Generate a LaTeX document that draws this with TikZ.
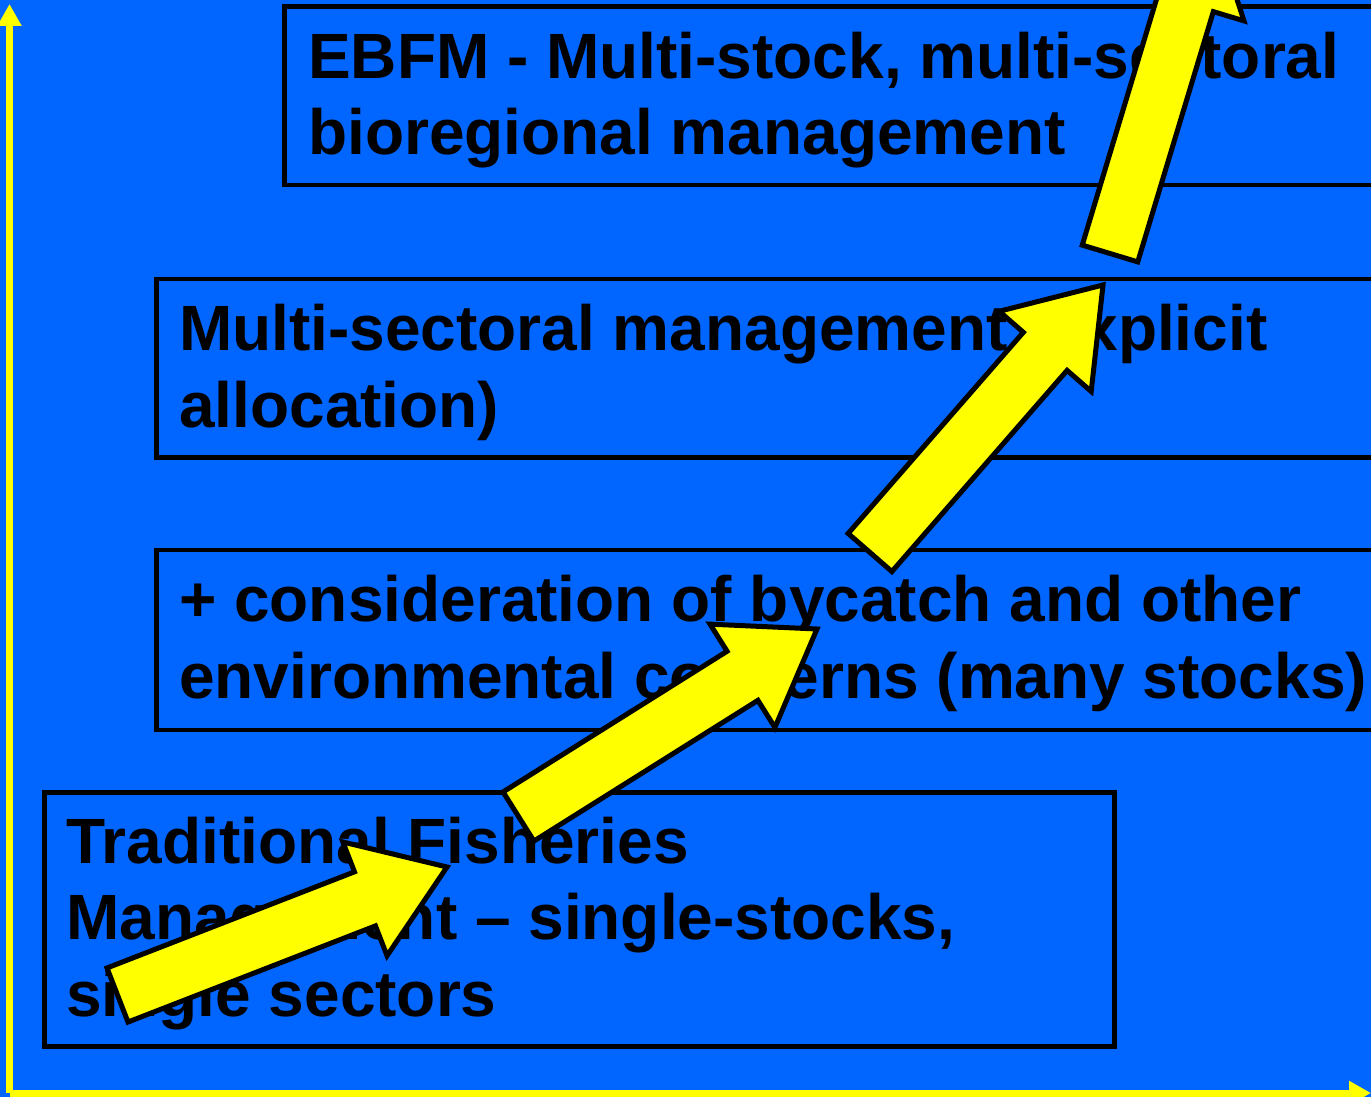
\documentclass[tikz,border=0pt]{standalone}
\usepackage{fontspec}
\setmainfont{Liberation Sans}
\usetikzlibrary{calc,arrows.meta}
\definecolor{bg}{HTML}{0066FF}
\definecolor{yel}{HTML}{FFFF00}
\newcommand\blockarrow[2]{%
  \path ($(#2)!88pt!(#1)$) coordinate (#2h);
  \draw[barrow] ($(#1)!29pt!90:(#2)$) -- ($(#2h)!29pt!90:(#2)$) -- ($(#2h)!61pt!90:(#2)$) -- (#2)
    -- ($(#2h)!61pt!-90:(#2)$) -- ($(#2h)!29pt!-90:(#2)$) -- ($(#1)!29pt!-90:(#2)$) -- cycle;}
\begin{document}
\begin{tikzpicture}[x=1pt,y=-1pt,
  box/.style={draw=black, line width=4.5pt, rectangle, inner sep=0pt, anchor=north west},
  label/.style={anchor=base west, inner sep=0pt, align=left, font=\fontsize{64}{76.5}\selectfont\bfseries, text=black},
  barrow/.style={draw=black, fill=yel, line width=5pt, line join=miter},
  axis/.style={draw=yel, line width=7pt, -{Triangle[length=22pt,width=23pt]}}]
\useasboundingbox (0,0) rectangle (1371,1097);
\fill[bg] (0,0) rectangle (1371,1097);
\clip (0,0) rectangle (1371,1097);
% boxes
\node[box, minimum width=1118pt, minimum height=178pt] (b1) at (282,4.5) {};
\node[box, minimum width=1246pt, minimum height=178.5pt] (b2) at (154,276.5) {};
\node[box, minimum width=1246pt, minimum height=180pt] (b3) at (154,547.5) {};
\node[box, minimum width=1070pt, minimum height=254pt] (b4) at (42,790) {};
% texts (anchored at the baseline of the last line)
\node[label] (t1) at (308,155) {EBFM - Multi-stock, multi-sectoral\\bioregional management};
\node[label] (t2) at (179,427) {Multi-sectoral management (explicit\\allocation)};
\node[label] (t3) at (179,698) {+ consideration of bycatch and other\\environmental concerns (many stocks)};
\node[label] (t4) at (66,1016) {Traditional Fisheries\\Management -- single-stocks,\\single sectors};
% axes
\coordinate (o) at (9.5,1093);
\coordinate (ytop) at (9.5,4);
\coordinate (xend) at (1371,1093);
\draw[axis] (o) -- (ytop);
\draw[axis] (o) -- (xend);
% arrows
\coordinate (a1t) at (117.5,995);  \coordinate (a1p) at (447,867);
\coordinate (a2t) at (518.5,816.5); \coordinate (a2p) at (817,629);
\coordinate (a3t) at (870,552.5);  \coordinate (a3p) at (1103,285);
\coordinate (a4t) at (1110,253.5); \coordinate (a4p) at (1211,-81);
\blockarrow{a1t}{a1p}
\blockarrow{a2t}{a2p}
\blockarrow{a3t}{a3p}
\blockarrow{a4t}{a4p}
\end{tikzpicture}
\end{document}
